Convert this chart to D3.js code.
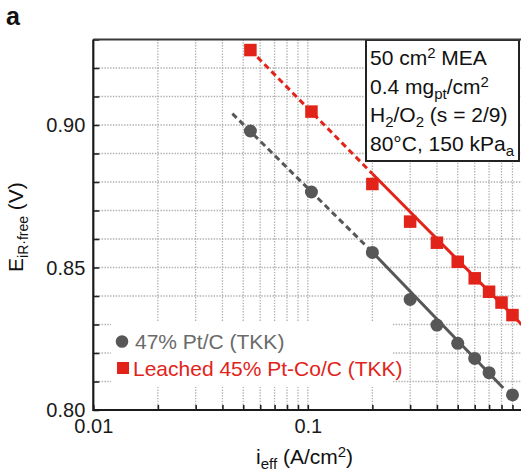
<!DOCTYPE html>
<html><head><meta charset="utf-8">
<script src="https://cdn.jsdelivr.net/npm/d3@7"></script>
<style>
body{margin:0;background:#fff}
svg{display:block;font-family:"Liberation Sans",Arial,Helvetica,sans-serif}
</style>
</head><body><svg id="chart" width="521" height="473"></svg>
<script>
// iR-free cell voltage (V) vs effective current density (A/cm2)
const ptcCurrent  = [0.054, 0.104, 0.2, 0.3, 0.4, 0.5, 0.6, 0.7, 0.9];
const ptcVoltage  = [0.8979, 0.8765, 0.8553, 0.8388, 0.8298, 0.8234, 0.8181, 0.8131, 0.8053];
const ptcoCurrent = [0.054, 0.104, 0.2, 0.3, 0.4, 0.5, 0.6, 0.7, 0.8, 0.9];
const ptcoVoltage = [0.9263, 0.9047, 0.8793, 0.8661, 0.8587, 0.8520, 0.8462, 0.8415, 0.8377, 0.8333];
// Tafel fits as [current, voltage] end points: dashed = extrapolated, solid = fitted range
const ptcFitDashed  = [[0.0445, 0.9040], [0.2, 0.8554]];
const ptcFitSolid   = [[0.2, 0.8554], [0.815, 0.8077]];
const ptcoFitDashed = [[0.054, 0.9263], [0.2, 0.8829]];
const ptcoFitSolid  = [[0.2, 0.8829], [1.0, 0.8298]];
const xTickLabels = [0.01, 0.1];
const yTickLabels = [0.80, 0.85, 0.90];
const seriesNames = ["47% Pt/C (TKK)", "Leached 45% Pt-Co/C (TKK)"];

const GRAY = "#575757", RED = "#e2231a";
const svg = d3.select("#chart");
const pLeft = 93.3, pRight = 522.3, pTop = 39.5, pBottom = 410;

const x = d3.scaleLog().domain([0.01, 1]).range([pLeft, pRight]);
const y = d3.scaleLinear().domain([0.80, 0.93]).range([pBottom, pTop]);

svg.append("rect").attr("width", 521).attr("height", 473).attr("fill", "#fff");

// dotted grid
const xGrid = x.ticks().filter(v => v > 0.0101 && v < 0.99);
const yGrid = d3.range(0.81, 0.925, 0.01);
const grid = svg.append("g").attr("stroke", "#b0b0b0").attr("stroke-width", 1.3)
  .attr("stroke-dasharray", "1.4 1.4");
grid.selectAll(".gx").data(xGrid).join("line")
  .attr("x1", d => x(d)).attr("x2", d => x(d)).attr("y1", pTop).attr("y2", pBottom);
grid.selectAll(".gy").data(yGrid).join("line")
  .attr("x1", pLeft).attr("x2", pRight).attr("y1", d => y(d)).attr("y2", d => y(d));

// legend and condition boxes sit over the grid
svg.append("rect").attr("x", 111).attr("y", 322).attr("width", 282).attr("height", 65).attr("fill", "#fff");
svg.append("rect").attr("x", 366).attr("y", 40).attr("width", 153).attr("height", 121)
  .attr("fill", "#fff").attr("stroke", "#222").attr("stroke-width", 2);

// fit lines
const line = d3.line().x(d => x(d[0])).y(d => y(d[1]));
const fits = [
  {pts: ptcFitDashed, c: GRAY, dash: "6 4"},
  {pts: ptcFitSolid, c: GRAY, dash: null},
  {pts: ptcoFitDashed, c: RED, dash: "6 4"},
  {pts: ptcoFitSolid, c: RED, dash: null}
];
svg.append("g").selectAll("path").data(fits).join("path")
  .attr("d", d => line(d.pts)).attr("fill", "none")
  .attr("stroke", d => d.c).attr("stroke-width", 3)
  .attr("stroke-dasharray", d => d.dash);

// markers
svg.append("g").selectAll("circle").data(d3.zip(ptcCurrent, ptcVoltage)).join("circle")
  .attr("cx", d => x(d[0])).attr("cy", d => y(d[1])).attr("r", 6.5).attr("fill", GRAY);
const sq = 12.5;
svg.append("g").selectAll("rect").data(d3.zip(ptcoCurrent, ptcoVoltage)).join("rect")
  .attr("x", d => x(d[0]) - sq / 2).attr("y", d => y(d[1]) - sq / 2)
  .attr("width", sq).attr("height", sq).attr("fill", RED);

// axes with inward ticks
const fmt2 = d3.format(".2f");
const xAxis = d3.axisBottom(x).tickValues(x.ticks()).tickSize(-5).tickPadding(9)
  .tickFormat(d => xTickLabels.some(t => Math.abs(t - d) < 1e-9) ? String(d) : "");
const gx = svg.append("g").attr("transform", `translate(0,${pBottom})`).call(xAxis);
const yAxis = d3.axisLeft(y).tickValues(d3.range(0.80, 0.931, 0.01)).tickSize(-6).tickPadding(8)
  .tickFormat(d => yTickLabels.some(t => Math.abs(t - d) < 1e-9) ? fmt2(d) : "");
const gy = svg.append("g").attr("transform", `translate(${pLeft},0)`).call(yAxis);
[gx, gy].forEach(g => {
  g.select(".domain").remove();
  g.selectAll(".tick line").attr("stroke", "#222").attr("stroke-width", 1.6);
  g.selectAll(".tick text").attr("fill", "#1a1a1a").style("font-size", "20px")
    .style("font-family", "'Liberation Sans',Arial,sans-serif");
});
gy.selectAll(".tick text").attr("dy", "0.34em");

// plot frame
svg.append("path").attr("d", `M${pLeft},${pTop}H${pRight}`).attr("stroke", "#3a3a3a").attr("stroke-width", 2);
svg.append("path").attr("d", `M${pLeft},${pTop}V${pBottom}H${pRight}`).attr("fill", "none")
  .attr("stroke", "#1a1a1a").attr("stroke-width", 2.2);

// legend
svg.append("circle").attr("cx", 122).attr("cy", 341.5).attr("r", 6.3).attr("fill", GRAY);
svg.append("rect").attr("x", 117).attr("y", 362).attr("width", 12).attr("height", 12).attr("fill", RED);
svg.append("text").attr("x", 135).attr("y", 348.5).attr("fill", "#6a6a6a").style("font-size", "21px").text(seriesNames[0]);
svg.append("text").attr("x", 133).attr("y", 375.5).attr("fill", RED).style("font-size", "21px").text(seriesNames[1]);

// operating conditions
const cond = [
  [["50 cm"], ["2", "sup"], [" MEA"]],
  [["0.4 mg"], ["pt", "sub"], ["/cm"], ["2", "sup"]],
  [["H"], ["2", "sub"], ["/O"], ["2", "sub"], [" (s = 2/9)"]],
  [["80°C, 150 kPa"], ["a", "sub"]]
];
function richText(sel, parts, big, small) {
  let shift = 0;
  parts.forEach(([t, k]) => {
    const target = k === "sup" ? -7 : k === "sub" ? 5 : 0;
    sel.append("tspan").attr("dy", target - shift)
      .style("font-size", (k ? small : big) + "px").text(t);
    shift = target;
  });
}
cond.forEach((parts, i) => {
  const t = svg.append("text").attr("x", 370).attr("y", 65 + i * 28.5).attr("fill", "#111");
  richText(t, parts, 21, 15);
});

// axis titles
const xt = svg.append("text").attr("x", 256).attr("y", 464).attr("fill", "#111");
richText(xt, [["i"], ["eff", "sub"], [" (A/cm"], ["2", "sup"], [")"]], 21, 15);
const yt = svg.append("text").attr("transform", "translate(23,272) rotate(-90)").attr("fill", "#111");
richText(yt, [["E"], ["iR·free", "sub"], [" (V)"]], 21, 14);

// panel letter
svg.append("text").attr("x", 6).attr("y", 25).attr("fill", "#111")
  .style("font-size", "25px").style("font-weight", "bold").text("a");
</script>
</body></html>
